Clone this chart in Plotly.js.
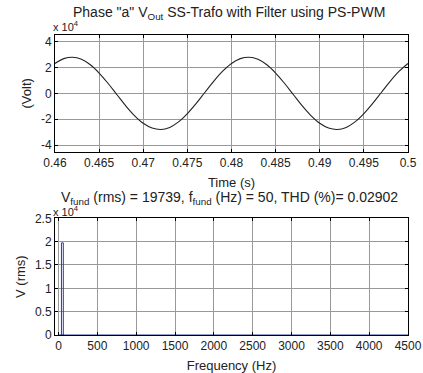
<!DOCTYPE html>
<html>
<head>
<meta charset="utf-8">
<script src="https://cdn.plot.ly/plotly-3.0.1.min.js"></script>
<style>
html,body{margin:0;padding:0;background:#fff;}
#chart{width:423px;height:373px;}
</style>
</head>
<body>
<div id="chart"></div>
<script>
// Phase "a" output voltage (V) sampled every 1 ms
const timeS = [0.460,0.461,0.462,0.463,0.464,0.465,0.466,0.467,0.468,0.469,
               0.470,0.471,0.472,0.473,0.474,0.475,0.476,0.477,0.478,0.479,
               0.480,0.481,0.482,0.483,0.484,0.485,0.486,0.487,0.488,0.489,
               0.490,0.491,0.492,0.493,0.494,0.495,0.496,0.497,0.498,0.499,0.500];
const voltOut = [23070,26780,27890,26250,22040,15680,7780,-860,-9460,-17100,
                 -23070,-26780,-27890,-26250,-22040,-15680,-7780,860,9460,17100,
                 23070,26780,27890,26250,22040,15680,7780,-860,-9460,-17100,
                 -23070,-26780,-27890,-26250,-22040,-15680,-7780,860,9460,17100,23070];

// FFT spectrum
const harmFreq = [50];
const harmVrms = [19739];
const baseFreq = [0, 4500];
const baseVrms = [0, 0];

// tick labels
const topTickVals = [-40000,-20000,0,20000,40000];
const topTickText = ['-4','-2','0','2','4'];
const botTickVals = [0,5000,10000,15000,20000,25000];
const botTickText = ['0','0.5','1','1.5','2','2.5'];
const timeTicks = [0.46,0.465,0.47,0.475,0.48,0.485,0.49,0.495,0.5];
const timeTickText = ['0.46','0.465','0.47','0.475','0.48','0.485','0.49','0.495','0.5'];
const freqTicks = [0,500,1000,1500,2000,2500,3000,3500,4000,4500];

const topTitle = 'Phase "a" V<sub>Out</sub> SS-Trafo with Filter using PS-PWM';
const botTitle = 'V<sub>fund</sub> (rms) = 19739, f<sub>fund</sub> (Hz) = 50, THD (%)= 0.02902';

const FONT = 'Liberation Sans, Arial, sans-serif';
const gridC = '#999999';
const txtC = '#222';

const axisCommon = {
  showline: true, linecolor: '#000', linewidth: 1, mirror: 'ticks',
  ticks: 'inside', ticklen: 3, tickcolor: '#000',
  showgrid: true, gridcolor: gridC, gridwidth: 1, zeroline: false,
  tickfont: {family: FONT, size: 12, color: txtC}
};

const traces = [
  {x: timeS, y: voltOut, type: 'scatter', mode: 'lines',
   line: {color: '#222', width: 1.1, shape: 'spline'}, xaxis: 'x', yaxis: 'y2', hoverinfo: 'skip'},
  {x: baseFreq, y: baseVrms, type: 'scatter', mode: 'lines',
   line: {color: '#2a3a9a', width: 1}, xaxis: 'x2', yaxis: 'y', hoverinfo: 'skip'},
  {x: harmFreq, y: harmVrms, type: 'bar', width: 24,
   marker: {color: 'rgba(255,255,255,0)', line: {color: '#2a3aa8', width: 1}},
   xaxis: 'x2', yaxis: 'y', hoverinfo: 'skip'}
];

const layout = {
  width: 423, height: 373,
  margin: {l: 55, r: 15, t: 35, b: 38},
  paper_bgcolor: '#fff', plot_bgcolor: '#fff',
  showlegend: false,
  font: {family: FONT, size: 12, color: txtC},
  xaxis: Object.assign({}, axisCommon, {
    domain: [0, 1], anchor: 'y2', range: [0.46, 0.5],
    tickvals: timeTicks, ticktext: timeTickText,
    title: {text: 'Time (s)', font: {family: FONT, size: 13, color: txtC}, standoff: 8}
  }),
  yaxis2: Object.assign({}, axisCommon, {
    domain: [0.611, 1], anchor: 'x', range: [-45000, 45000],
    tickvals: topTickVals, ticktext: topTickText,
    title: {text: '(Volt)', font: {family: FONT, size: 13, color: txtC}, standoff: 6}
  }),
  xaxis2: Object.assign({}, axisCommon, {
    domain: [0, 1], anchor: 'y', range: [-45, 4500],
    tickvals: freqTicks,
    title: {text: 'Frequency (Hz)', font: {family: FONT, size: 13, color: txtC}, standoff: 11}
  }),
  yaxis: Object.assign({}, axisCommon, {
    domain: [0, 0.389], anchor: 'x2', range: [0, 25000],
    tickvals: botTickVals, ticktext: botTickText,
    title: {text: 'V (rms)', font: {family: FONT, size: 13, color: txtC}, standoff: 6}
  }),
  bargap: 0,
  annotations: [
    {text: topTitle, xref: 'paper', yref: 'paper', x: 0.493, y: 1.075,
     xanchor: 'center', yanchor: 'middle', showarrow: false,
     font: {family: FONT, size: 14, color: txtC}},
    {text: 'x 10<sup>4</sup>', xref: 'paper', yref: 'paper', x: 0, y: 1.03,
     xanchor: 'left', yanchor: 'middle', showarrow: false, xshift: -4,
     font: {family: FONT, size: 11, color: txtC}},
    {text: botTitle, xref: 'paper', yref: 'paper', x: 0.493, y: 0.456,
     xanchor: 'center', yanchor: 'middle', showarrow: false,
     font: {family: FONT, size: 14, color: txtC}},
    {text: 'x 10<sup>4</sup>', xref: 'paper', yref: 'paper', x: 0, y: 0.414,
     xanchor: 'left', yanchor: 'middle', showarrow: false, xshift: -4,
     font: {family: FONT, size: 11, color: txtC}}
  ]
};

Plotly.newPlot('chart', traces, layout, {displayModeBar: false, staticPlot: true});
</script>
</body>
</html>
